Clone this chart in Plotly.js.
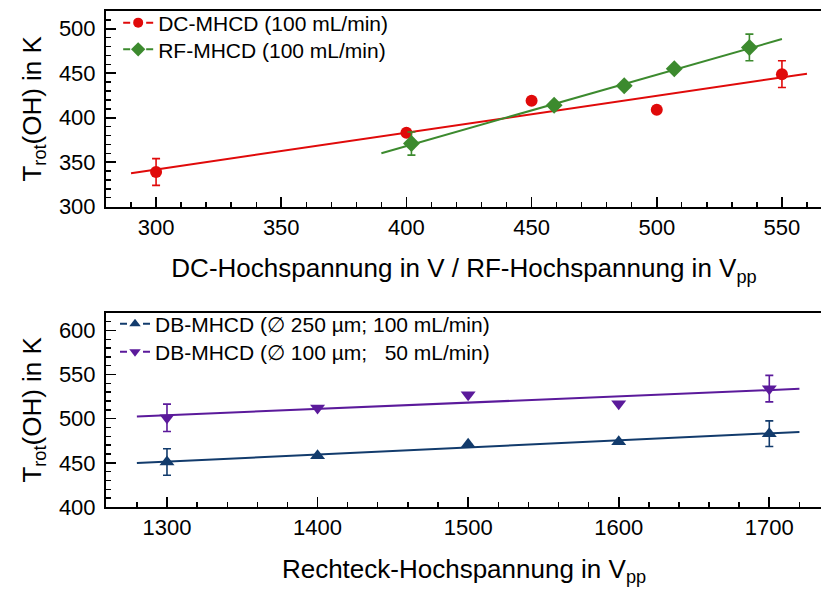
<!DOCTYPE html>
<html>
<head>
<meta charset="utf-8">
<script src="https://cdn.plot.ly/plotly-3.0.1.min.js"></script>
<style>
html,body{margin:0;padding:0;overflow:hidden;background:#fff;}
#chart{width:824px;height:589px;}
</style>
</head>
<body>
<div id="chart"></div>
<script>
// ---- data ----
const dcVoltage = [300, 400, 450, 500, 550];
const dcTemp    = [339, 383, 419, 409, 449];
const dcErr     = [15, null, null, null, 15];
const dcFitRange = [290, 560];

const rfVoltage = [402, 459, 487, 507, 537];
const rfTemp    = [371, 414, 436, 455, 479];
const rfErr     = [13, null, null, null, 15];
const rfFitRange = [390, 550];

const dbVoltage = [1300, 1400, 1500, 1600, 1700];
const db250Temp = [451, 458, 471, 474, 483];
const db250Err  = [15, null, null, null, 14.5];
const db100Temp = [501, 512, 527, 517, 534];
const db100Err  = [15.5, null, null, null, 15];
const dbFitRange = [1280, 1720];

const names = {
  dc: 'DC-MHCD (100 mL/min)',
  rf: 'RF-MHCD (100 mL/min)',
  db250: 'DB-MHCD (\u2205 250 \u00b5m; 100 mL/min)',
  db100: 'DB-MHCD (\u2205 100 \u00b5m;\u00a0\u00a0 50 mL/min)'
};

const colors = {dc:'#e00a0a', rf:'#3c8a2e', db250:'#123b6c', db100:'#5b1a9b'};

// least-squares linear fit
function fit(xs, ys, range){
  const n = xs.length;
  const mx = xs.reduce((a,b)=>a+b,0)/n, my = ys.reduce((a,b)=>a+b,0)/n;
  let sxy=0, sxx=0;
  for(let i=0;i<n;i++){sxy+=(xs[i]-mx)*(ys[i]-my); sxx+=(xs[i]-mx)**2;}
  const k = sxy/sxx;
  return {x: range.slice(), y: range.map(v => my + k*(v-mx))};
}

const FONT = 'Liberation Sans, Arial, sans-serif';

function pts(x, y, err, color, symbol, size, xa, ya){
  return {x, y, xaxis:xa, yaxis:ya, type:'scatter', mode:'markers', showlegend:false,
    marker:{color, symbol, size, line:{width:0}},
    error_y:{type:'data', array:err, visible:true, color, thickness:1.6, width:4}};
}
function line(f, color, xa, ya){
  return {x:f.x, y:f.y, xaxis:xa, yaxis:ya, type:'scatter', mode:'lines', showlegend:false,
    line:{color, width:2}};
}
function leg(name, color, symbol, size, legend, xa, ya){
  return {x:[null], y:[null], xaxis:xa, yaxis:ya, type:'scatter', mode:'lines+markers', name, legend,
    line:{color, width:2, dash:'7px,16px'}, marker:{color, symbol, size}};
}

const fDC = fit(dcVoltage, dcTemp, dcFitRange);
const fRF = fit(rfVoltage, rfTemp, rfFitRange);
const f250 = fit(dbVoltage, db250Temp, dbFitRange);
const f100 = fit(dbVoltage, db100Temp, dbFitRange);

const data = [
  line(fDC, colors.dc, 'x', 'y'),
  line(fRF, colors.rf, 'x', 'y'),
  pts(dcVoltage, dcTemp, dcErr, colors.dc, 'circle', 12, 'x', 'y'),
  pts(rfVoltage, rfTemp, rfErr, colors.rf, 'diamond', 13, 'x', 'y'),
  leg(names.dc, colors.dc, 'circle', 10, 'legend', 'x', 'y'),
  leg(names.rf, colors.rf, 'diamond', 11, 'legend2', 'x', 'y'),
  line(f250, colors.db250, 'x2', 'y2'),
  line(f100, colors.db100, 'x2', 'y2'),
  pts(dbVoltage, db250Temp, db250Err, colors.db250, 'triangle-up', 13, 'x2', 'y2'),
  pts(dbVoltage, db100Temp, db100Err, colors.db100, 'triangle-down', 13, 'x2', 'y2'),
  leg(names.db250, colors.db250, 'triangle-up', 10, 'legend3', 'x2', 'y2'),
  leg(names.db100, colors.db100, 'triangle-down', 10, 'legend4', 'x2', 'y2')
];

function xax(range, dtick, minor, title, anchor){
  return {range, dtick, tick0:0, ticks:'inside', ticklen:10, tickwidth:1.6, tickcolor:'#000',
    minor:{dtick:minor, ticks:'inside', ticklen:5, tickwidth:1.4, tickcolor:'#000', showgrid:false},
    showline:true, linewidth:2, linecolor:'#000', mirror:true, showgrid:false, zeroline:false,
    anchor, tickfont:{family:FONT, size:22, color:'#000'},
    title:{text:title, font:{family:FONT, size:26, color:'#000'}, standoff:20}};
}
function yax(range, domain, anchor){
  return {range, domain, dtick:50, tick0:0, ticks:'inside', ticklen:10, tickwidth:1.6, tickcolor:'#000',
    minor:{dtick:10, ticks:'inside', ticklen:5, tickwidth:1.4, tickcolor:'#000', showgrid:false},
    showline:true, linewidth:2, linecolor:'#000', mirror:true, showgrid:false, zeroline:false,
    anchor, ticklabelstandoff:4, tickfont:{family:FONT, size:22, color:'#000'},
    title:{text:'T<sub>rot</sub>(OH) in K', font:{family:FONT, size:26, color:'#000'}, standoff:10}};
}
function lg(x, y){
  return {x, y, xanchor:'left', yanchor:'middle', bgcolor:'rgba(0,0,0,0)',
    font:{family:FONT, size:21, color:'#000'}, itemwidth:30};
}

const layout = {
  width:824, height:589,
  margin:{l:106, r:2, t:11, b:82},
  paper_bgcolor:'#fff', plot_bgcolor:'#fff',
  font:{family:FONT, color:'#000'},
  xaxis: xax([280, 566], 50, 10, 'DC-Hochspannung in V / RF-Hochspannung in V<sub>pp</sub>', 'y'),
  yaxis: yax([300, 520], [0.6055, 1], 'x'),
  xaxis2: xax([1259.5, 1735], 100, 20, 'Rechteck-Hochspannung in V<sub>pp</sub>', 'y2'),
  yaxis2: yax([400, 620], [0, 0.3917], 'x2'),
  legend: lg(0.017, 0.9758),
  legend2: lg(0.017, 0.922),
  legend3: lg(0.0126, 0.369),
  legend4: lg(0.0126, 0.3125),
  showlegend:true
};

Plotly.newPlot('chart', data, layout, {displayModeBar:false, staticPlot:true});
</script>
</body>
</html>
